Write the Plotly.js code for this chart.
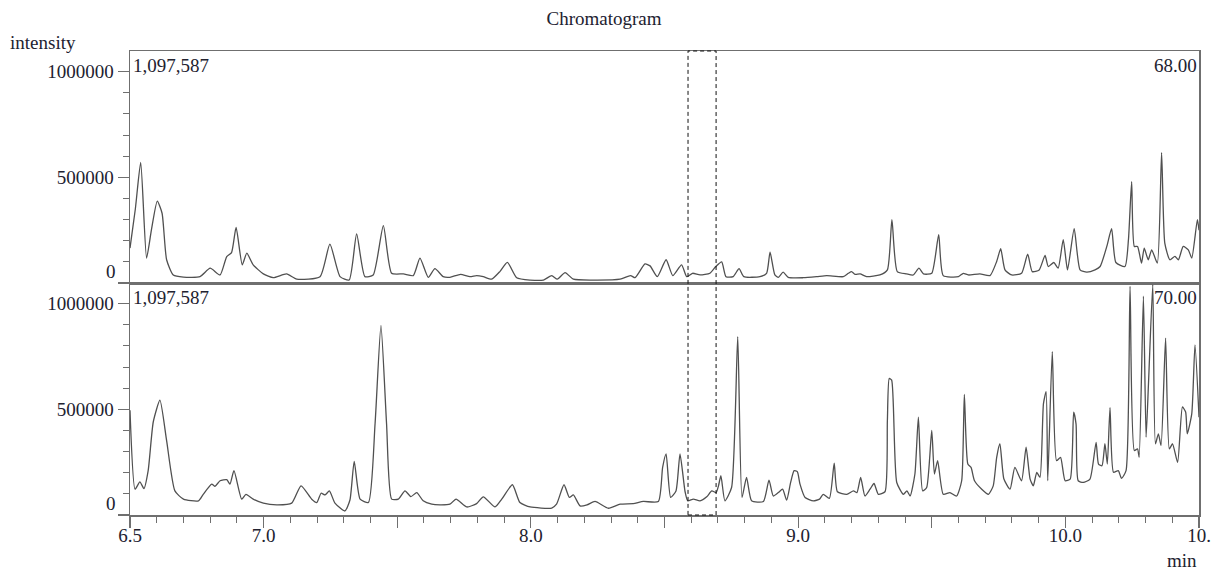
<!DOCTYPE html>
<html>
<head>
<meta charset="utf-8">
<script src="https://cdn.plot.ly/plotly-3.0.1.min.js"></script>
<style>html,body{margin:0;padding:0;background:#fff;}#chart{width:1211px;height:570px;}</style>
</head>
<body>
<div id="chart"></div>
<script>
// ---- data ----
const timeTop = [6.500,6.520,6.540,6.562,6.580,6.602,6.620,6.637,6.662,6.700,6.762,6.800,6.837,6.862,6.880,6.897,6.920,6.937,6.961,6.999,7.036,7.086,7.124,7.211,7.248,7.286,7.320,7.348,7.379,7.410,7.448,7.479,7.523,7.560,7.585,7.616,7.641,7.672,7.697,7.737,7.772,7.797,7.822,7.853,7.884,7.912,7.947,7.997,8.047,8.078,8.099,8.128,8.159,8.234,8.334,8.373,8.390,8.427,8.446,8.473,8.506,8.531,8.564,8.583,8.605,8.633,8.670,8.692,8.714,8.730,8.757,8.779,8.797,8.857,8.882,8.895,8.913,8.926,8.944,8.963,9.019,9.069,9.107,9.169,9.188,9.200,9.213,9.232,9.256,9.306,9.334,9.351,9.371,9.406,9.431,9.452,9.469,9.500,9.526,9.543,9.600,9.618,9.637,9.680,9.718,9.743,9.758,9.774,9.799,9.836,9.859,9.876,9.902,9.924,9.936,9.957,9.973,9.992,10.008,10.033,10.055,10.080,10.111,10.130,10.155,10.173,10.189,10.223,10.236,10.248,10.258,10.270,10.285,10.295,10.310,10.323,10.344,10.360,10.372,10.391,10.410,10.423,10.441,10.460,10.473,10.494,10.500];
const intensityTop = [165000,350000,570000,118000,250000,387000,330000,110000,38000,28000,30000,70000,38000,125000,144000,263000,86000,141000,86000,43000,25000,43000,18000,30000,184000,30000,14000,232000,30000,38000,271000,46000,43000,35000,118000,27000,68000,30000,27000,41000,30000,35000,30000,18000,54000,98000,25000,14000,14000,35000,18000,49000,18000,14000,18000,35000,25000,90000,81000,30000,110000,35000,86000,30000,46000,38000,46000,78000,100000,30000,30000,68000,30000,30000,46000,146000,38000,27000,51000,27000,25000,30000,35000,30000,46000,54000,41000,43000,30000,38000,62000,300000,54000,43000,38000,70000,43000,46000,229000,35000,30000,46000,38000,43000,35000,102000,162000,62000,38000,46000,137000,54000,62000,130000,78000,97000,70000,205000,62000,257000,62000,51000,62000,78000,173000,257000,97000,78000,205000,480000,173000,173000,94000,165000,110000,157000,94000,617000,189000,110000,126000,110000,173000,157000,118000,300000,250000];

const timeBottom = [6.500,6.519,6.537,6.552,6.568,6.587,6.612,6.637,6.668,6.700,6.756,6.774,6.806,6.818,6.837,6.862,6.874,6.889,6.918,6.934,6.961,6.999,7.049,7.105,7.140,7.180,7.199,7.215,7.230,7.246,7.267,7.304,7.323,7.339,7.361,7.392,7.417,7.439,7.460,7.479,7.504,7.529,7.551,7.573,7.597,7.629,7.660,7.697,7.720,7.760,7.797,7.822,7.866,7.891,7.931,7.959,7.997,8.078,8.096,8.124,8.144,8.159,8.184,8.210,8.240,8.290,8.334,8.383,8.421,8.477,8.493,8.506,8.523,8.543,8.558,8.577,8.587,8.608,8.633,8.658,8.677,8.693,8.702,8.711,8.726,8.751,8.774,8.790,8.807,8.826,8.870,8.891,8.907,8.926,8.942,8.957,8.972,8.985,8.997,9.007,9.026,9.057,9.080,9.094,9.117,9.135,9.147,9.182,9.207,9.220,9.234,9.250,9.269,9.284,9.300,9.325,9.334,9.341,9.350,9.369,9.394,9.407,9.419,9.437,9.450,9.466,9.481,9.500,9.510,9.522,9.543,9.568,9.593,9.612,9.622,9.635,9.647,9.660,9.687,9.712,9.730,9.743,9.755,9.770,9.793,9.811,9.836,9.853,9.868,9.880,9.893,9.905,9.918,9.928,9.934,9.951,9.967,9.982,9.999,10.018,10.031,10.040,10.048,10.067,10.092,10.115,10.124,10.137,10.148,10.157,10.167,10.180,10.198,10.210,10.227,10.242,10.258,10.270,10.276,10.292,10.302,10.311,10.327,10.337,10.348,10.358,10.375,10.389,10.401,10.420,10.438,10.450,10.456,10.473,10.485,10.500];
const intensityBottom = [495000,122000,157000,125000,210000,440000,543000,352000,114000,75000,67000,98000,146000,136000,162000,167000,146000,210000,75000,98000,75000,56000,48000,56000,138000,75000,59000,103000,95000,114000,56000,19000,71000,254000,75000,59000,432000,897000,432000,75000,75000,114000,87000,106000,67000,51000,48000,51000,75000,38000,54000,86000,38000,75000,143000,59000,38000,33000,51000,143000,83000,95000,43000,48000,64000,32000,51000,54000,64000,64000,225000,289000,83000,114000,289000,110000,67000,75000,67000,86000,114000,106000,138000,186000,67000,130000,844000,83000,178000,67000,64000,165000,90000,106000,122000,70000,154000,210000,205000,146000,83000,67000,75000,98000,79000,245000,110000,98000,114000,106000,178000,90000,122000,149000,98000,110000,448000,646000,638000,154000,98000,114000,90000,194000,463000,114000,130000,400000,194000,257000,98000,106000,90000,162000,570000,241000,225000,162000,122000,98000,138000,273000,337000,170000,122000,225000,162000,321000,170000,138000,202000,178000,527000,583000,162000,773000,257000,273000,162000,170000,487000,430000,162000,154000,170000,344000,241000,233000,337000,241000,508000,202000,210000,173000,210000,1082000,305000,313000,273000,1035000,368000,622000,1090000,337000,384000,329000,837000,313000,337000,249000,511000,487000,384000,480000,805000,463000];

const panelMax = 1097587;
const panelMaxLabel = "1,097,587";
const channelLabels = ["68.00", "70.00"];
const xTickVals = [6.5, 7.0, 7.5, 8.0, 8.5, 9.0, 9.5, 10.0, 10.5];
const xTickText = ["6.5", "7.0", "", "8.0", "", "9.0", "", "10.0", "10."];
const yTickVals = [0, 500000, 1000000];
const yTickText = ["0", "500000", "1000000"];
const highlightWindow = [8.588, 8.693];

// ---- styling ----
const FONT = "Liberation Serif, Times New Roman, serif";
const TXT = "#222230";
const FRAME = "#6f6f6f";
const FS = 19;

const lineStyle = {color: "#505050", width: 1.3, shape: "spline", smoothing: 0.55};
const traces = [
  {x: timeTop, y: intensityTop, type: "scatter", mode: "lines", line: lineStyle, xaxis: "x", yaxis: "y", hoverinfo: "skip", cliponaxis: true},
  {x: timeBottom, y: intensityBottom, type: "scatter", mode: "lines", line: lineStyle, xaxis: "x2", yaxis: "y2", hoverinfo: "skip", cliponaxis: true}
];

function yAxis(domain) {
  return {
    domain: domain, range: [0, panelMax], showgrid: false, zeroline: false,
    showline: true, mirror: true, linecolor: FRAME, linewidth: 1.5,
    tickmode: "array", tickvals: yTickVals,
    ticktext: yTickText.map(t => t === "0" ? "" : t),
    ticks: "outside", ticklen: 11, tickwidth: 1.2, tickcolor: FRAME,
    minor: {dtick: 100000, tick0: 0, ticks: "outside", ticklen: 6, tickwidth: 1, tickcolor: FRAME},
    tickfont: {family: FONT, size: FS, color: TXT}, fixedrange: true
  };
}

const layout = {
  width: 1211, height: 570,
  margin: {l: 130, r: 12, t: 51, b: 55, pad: 0},
  paper_bgcolor: "#fff", plot_bgcolor: "#fff",
  showlegend: false,
  title: {text: "Chromatogram", font: {family: FONT, size: FS, color: TXT},
          x: 604/1211, xref: "container", xanchor: "center", y: 1 - 18/570, yref: "container", yanchor: "middle"},
  xaxis: {domain: [0, 1], anchor: "y", range: [6.5, 10.5], showticklabels: false, ticks: "",
          showgrid: false, zeroline: false, showline: true, mirror: true, linecolor: FRAME, linewidth: 1.5},
  yaxis: yAxis([0.5, 1]),
  xaxis2: {domain: [0, 1], anchor: "y2", range: [6.5, 10.5], showgrid: false, zeroline: false,
           showline: true, mirror: true, linecolor: FRAME, linewidth: 1.5,
           tickmode: "array", tickvals: xTickVals, ticktext: xTickText,
           ticks: "outside", ticklen: 11, tickwidth: 1.2, tickcolor: FRAME,
           ticklabelstandoff: -8,
           minor: {dtick: 0.1, tick0: 6.5, ticks: "outside", ticklen: 6, tickwidth: 1, tickcolor: FRAME},
           tickfont: {family: FONT, size: FS, color: TXT}},
  yaxis2: yAxis([0, 0.5]),
  shapes: [{type: "rect", xref: "x2", yref: "paper", x0: highlightWindow[0], x1: highlightWindow[1], y0: 0, y1: 1,
            line: {color: "#111", width: 1, dash: "4px,3px"}, fillcolor: "rgba(0,0,0,0)"}],
  annotations: [
    {text: "intensity", xref: "paper", yref: "paper", x: -122/1069, y: (515-42)/464, xanchor: "left", yanchor: "middle", showarrow: false, font: {family: FONT, size: FS, color: TXT}},
    {text: "min", xref: "paper", yref: "paper", x: 1, y: 0, xanchor: "right", yanchor: "middle", yshift: -45, showarrow: false, font: {family: FONT, size: FS, color: TXT}},
    {text: panelMaxLabel, xref: "x domain", yref: "y domain", x: 0, y: 1, xanchor: "left", yanchor: "middle", xshift: 1, yshift: -14, showarrow: false, font: {family: FONT, size: FS, color: TXT}},
    {text: panelMaxLabel, xref: "x2 domain", yref: "y2 domain", x: 0, y: 1, xanchor: "left", yanchor: "middle", xshift: 1, yshift: -14, showarrow: false, font: {family: FONT, size: FS, color: TXT}},
    {text: channelLabels[0], xref: "x domain", yref: "y domain", x: 1, y: 1, xanchor: "right", yanchor: "middle", xshift: 0, yshift: -14, showarrow: false, font: {family: FONT, size: FS, color: TXT}},
    {text: channelLabels[1], xref: "x2 domain", yref: "y2 domain", x: 1, y: 1, xanchor: "right", yanchor: "middle", xshift: 0, yshift: -14, showarrow: false, font: {family: FONT, size: FS, color: TXT}},
    {text: yTickText[0], xref: "paper", yref: "y", x: 0, y: 0, xanchor: "right", yanchor: "middle", xshift: -12, yshift: 12, showarrow: false, font: {family: FONT, size: FS, color: TXT}},
    {text: yTickText[0], xref: "paper", yref: "y2", x: 0, y: 0, xanchor: "right", yanchor: "middle", xshift: -12, yshift: 12, showarrow: false, font: {family: FONT, size: FS, color: TXT}}
  ]
};

Plotly.newPlot("chart", traces, layout, {staticPlot: true, displayModeBar: false});
</script>
</body>
</html>
